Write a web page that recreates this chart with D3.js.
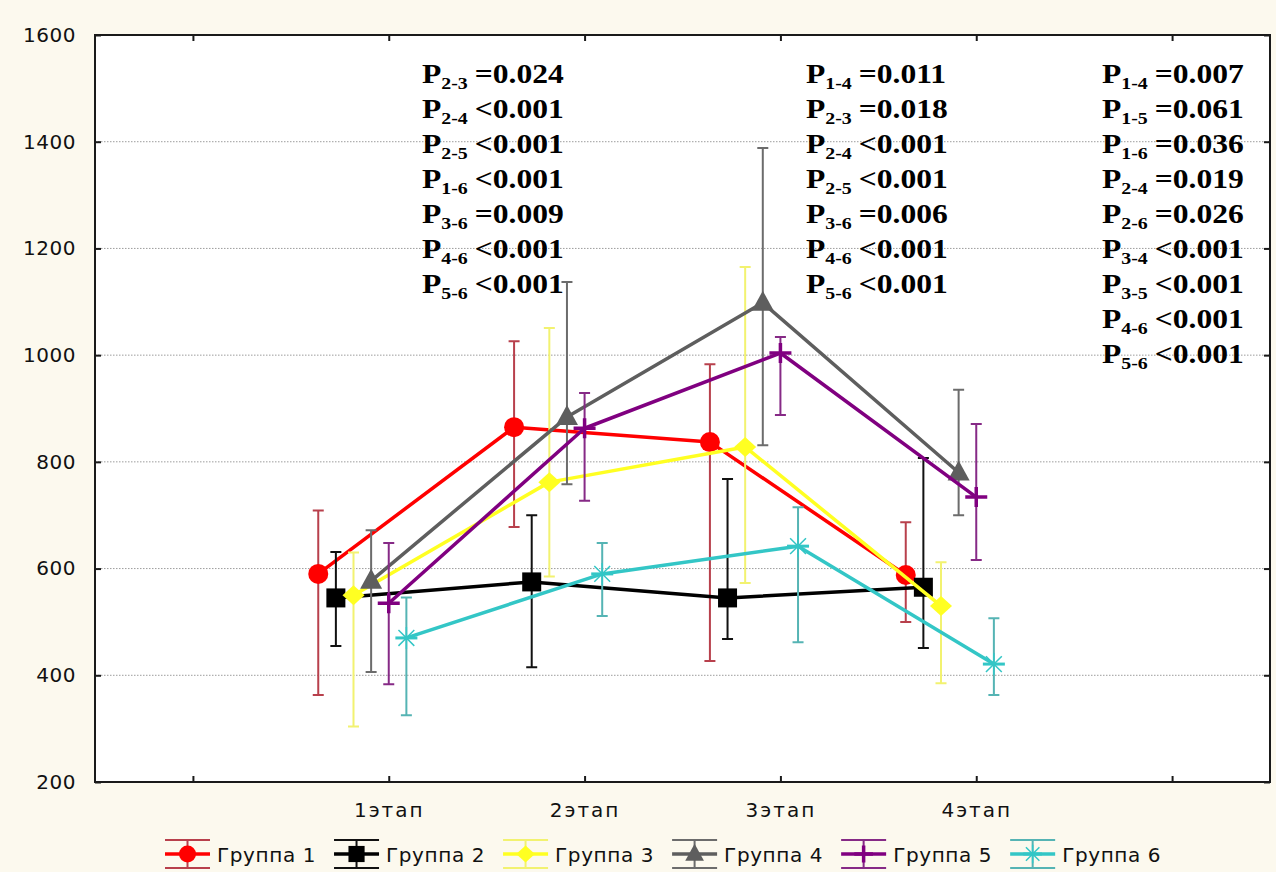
<!DOCTYPE html>
<html>
<head>
<meta charset="utf-8">
<script src="https://d3js.org/d3.v7.min.js"></script>
<style>
  body { margin: 0; background: #fcf9ee; }
  svg { display: block; }
  .tick text { font-family: "DejaVu Sans", sans-serif; font-size: 20px; fill: #111; }
</style>
</head>
<body>
<svg id="chart" width="1276" height="872"></svg>
<script>
// ---- data ----
const stages = ["1этап", "2этап", "3этап", "4этап"];
const groups = ["Группа 1", "Группа 2", "Группа 3", "Группа 4", "Группа 5", "Группа 6"];

// mean per group per stage
const means = [
  [590, 865, 837, 588],
  [545, 575, 545, 565],
  [550, 762, 828, 530],
  [577, 884, 1098, 780],
  [535, 863, 1004, 734],
  [470, 590, 642, 421]
];
// upper whisker
const upper = [
  [709, 1026, 983, 687],
  [631, 700, 768, 807],
  [630, 1051, 1165, 612],
  [672, 1137, 1388, 935],
  [648, 929, 1034, 871],
  [546, 648, 715, 507]
];
// lower whisker
const lower = [
  [363, 678, 427, 500],
  [455, 415, 468, 451],
  [304, 585, 573, 385],
  [406, 758, 831, 700],
  [383, 727, 888, 616],
  [325, 511, 462, 363]
];

const yTicks = [200, 400, 600, 800, 1000, 1200, 1400, 1600];

// p-value notes, one list per column
const pCol1 = [["2-3", "=0.024"], ["2-4", "<0.001"], ["2-5", "<0.001"], ["1-6", "<0.001"],
               ["3-6", "=0.009"], ["4-6", "<0.001"], ["5-6", "<0.001"]];
const pCol2 = [["1-4", "=0.011"], ["2-3", "=0.018"], ["2-4", "<0.001"], ["2-5", "<0.001"],
               ["3-6", "=0.006"], ["4-6", "<0.001"], ["5-6", "<0.001"]];
const pCol3 = [["1-4", "=0.007"], ["1-5", "=0.061"], ["1-6", "=0.036"], ["2-4", "=0.019"],
               ["2-6", "=0.026"], ["3-4", "<0.001"], ["3-5", "<0.001"], ["4-6", "<0.001"], ["5-6", "<0.001"]];

// ---- styling ----
const lineColors = ["#ff0000", "#000000", "#ffff22", "#5e5e5e", "#800080", "#33c6c6"];
const barColors = ["#b8404c", "#111111", "#f2f270", "#6c6c6c", "#862a86", "#55b4b4"];
const shapes = ["circle", "square", "diamond", "triangle", "plus", "asterisk"];
const offsets = [-0.36, -0.27, -0.18, -0.09, 0, 0.09];

const L = 95, R = 1270, T = 35, B = 782;
const svg = d3.select("#chart");

const x = d3.scaleLinear().domain([-0.5, 5.5]).range([L, R]);
const y = d3.scaleLinear().domain([200, 1600]).range([B, T]);

// plot area
svg.append("rect").attr("x", L).attr("y", T).attr("width", R - L).attr("height", B - T)
  .attr("fill", "#ffffff");

// gridlines
svg.append("g").selectAll("line").data(yTicks.slice(1, -1)).enter().append("line")
  .attr("x1", L).attr("x2", R)
  .attr("y1", d => y(d)).attr("y2", d => y(d))
  .attr("stroke", "#9c9c9c").attr("stroke-width", 1).attr("stroke-dasharray", "1.5,1.5");

// axes (ticks inward)
const stageLabel = i => (i >= 1 && i <= stages.length) ? stages[i - 1] : "";
svg.append("g").attr("transform", `translate(${L},0)`)
  .call(d3.axisLeft(y).tickValues(yTicks).tickSize(-6).tickPadding(19).tickFormat(d3.format("d")))
  .selectAll("text").style("letter-spacing", "0.5px");
svg.append("g").attr("transform", `translate(${R},0)`)
  .call(d3.axisRight(y).tickValues(yTicks).tickSize(-6).tickFormat(""));
svg.append("g").attr("transform", `translate(0,${B})`)
  .call(d3.axisBottom(x).tickValues([0, 1, 2, 3, 4, 5]).tickSize(-6).tickPadding(21).tickFormat(stageLabel))
  .selectAll("text").style("letter-spacing", "2px");
svg.append("g").attr("transform", `translate(0,${T})`)
  .call(d3.axisTop(x).tickValues([0, 1, 2, 3, 4, 5]).tickSize(-6).tickFormat(""));
svg.selectAll(".domain").remove();
svg.selectAll(".tick line").attr("stroke", "#1a1a1a").attr("stroke-width", 2);

// frame
svg.append("rect").attr("x", L).attr("y", T).attr("width", R - L).attr("height", B - T)
  .attr("fill", "none").attr("stroke", "#1a1a1a").attr("stroke-width", 2);

// marker drawing
function marker(g, shape, cx, cy, color, k) {
  k = k || 1;
  if (shape === "circle") {
    g.append("circle").attr("cx", cx).attr("cy", cy).attr("r", 10 * k).attr("fill", color);
  } else if (shape === "square") {
    g.append("rect").attr("x", cx - 9.5 * k).attr("y", cy - 9.5 * k)
      .attr("width", 19 * k).attr("height", 19 * k).attr("fill", color);
  } else if (shape === "diamond") {
    g.append("path").attr("fill", color)
      .attr("d", `M${cx - 11 * k},${cy} L${cx},${cy - 10 * k} L${cx + 11 * k},${cy} L${cx},${cy + 10 * k}Z`);
  } else if (shape === "triangle") {
    g.append("path").attr("fill", color)
      .attr("d", `M${cx},${cy - 12 * k} L${cx + 11 * k},${cy + 8 * k} L${cx - 11 * k},${cy + 8 * k}Z`);
  } else if (shape === "plus") {
    g.append("path").attr("stroke", color).attr("stroke-width", 3.5).attr("fill", "none")
      .attr("d", `M${cx - 11 * k},${cy} H${cx + 11 * k} M${cx},${cy - 10 * k} V${cy + 10 * k}`);
  } else if (shape === "asterisk") {
    const r = 11 * k, q = r * 0.72;
    g.append("path").attr("stroke", color).attr("stroke-width", 1.5).attr("fill", "none")
      .attr("d", `M${cx - q},${cy - q} L${cx + q},${cy + q} M${cx - q},${cy + q} L${cx + q},${cy - q}` +
                 ` M${cx},${cy - r} V${cy + r}`);
    g.append("path").attr("stroke", color).attr("stroke-width", 3).attr("fill", "none")
      .attr("d", `M${cx - r},${cy} H${cx + r}`);
  }
}

// series
const line = d3.line().x(d => x(d[0])).y(d => y(d[1]));
groups.forEach((name, gi) => {
  const g = svg.append("g").attr("class", "series");
  const pts = stages.map((s, si) => ({
    xi: si + 1 + offsets[gi], m: means[gi][si], hi: upper[gi][si], lo: lower[gi][si]
  }));
  // whiskers
  pts.forEach(p => {
    const cx = x(p.xi);
    g.append("path").attr("stroke", barColors[gi]).attr("stroke-width", 2).attr("fill", "none")
      .attr("d", `M${cx},${y(p.hi)} V${y(p.lo)} M${cx - 5.5},${y(p.hi)} H${cx + 5.5} M${cx - 5.5},${y(p.lo)} H${cx + 5.5}`);
  });
  g.append("path").datum(pts.map(p => [p.xi, p.m])).attr("d", line)
    .attr("fill", "none").attr("stroke", lineColors[gi]).attr("stroke-width", 3.5)
    .attr("stroke-linejoin", "round");
  pts.forEach(p => marker(g, shapes[gi], x(p.xi), y(p.m), lineColors[gi]));
});

// p-value columns
function pColumn(list, px, py0) {
  const g = svg.append("g").attr("transform", `translate(${px},0) scale(1.17,1)`);
  list.forEach((row, i) => {
    const t = g.append("text").attr("x", 0).attr("y", py0 + i * 35)
      .style("font-family", "'Liberation Serif', 'Times New Roman', serif")
      .style("font-weight", "bold").style("font-size", "27px").attr("fill", "#000");
    t.append("tspan").text("P");
    t.append("tspan").attr("dy", 6).style("font-size", "17px").text(row[0]);
    t.append("tspan").attr("dy", -6).attr("dx", 6).text(row[1]);
  });
}
pColumn(pCol1, 422, 83);
pColumn(pCol2, 806, 83);
pColumn(pCol3, 1102, 83);

// legend
let lx = 165;
const ly = 854;
groups.forEach((name, gi) => {
  const g = svg.append("g");
  const w = 45, c = lx + w / 2;
  g.append("path").attr("stroke", barColors[gi]).attr("stroke-width", 2).attr("fill", "none")
    .attr("d", `M${lx},${ly - 14} H${lx + w} M${lx},${ly + 14} H${lx + w} M${c},${ly - 14} V${ly + 14}`);
  g.append("line").attr("x1", lx).attr("x2", lx + w).attr("y1", ly).attr("y2", ly)
    .attr("stroke", lineColors[gi]).attr("stroke-width", 3.5);
  marker(g, shapes[gi], c, ly, lineColors[gi], 0.85);
  const t = g.append("text").attr("x", lx + w + 7).attr("y", ly + 8)
    .style("font-family", "'DejaVu Sans', sans-serif").style("font-size", "20px")
    .style("letter-spacing", "0.6px").attr("fill", "#111").text(name);
  lx += w + 7 + t.node().getComputedTextLength() + 18;
});
</script>
</body>
</html>
